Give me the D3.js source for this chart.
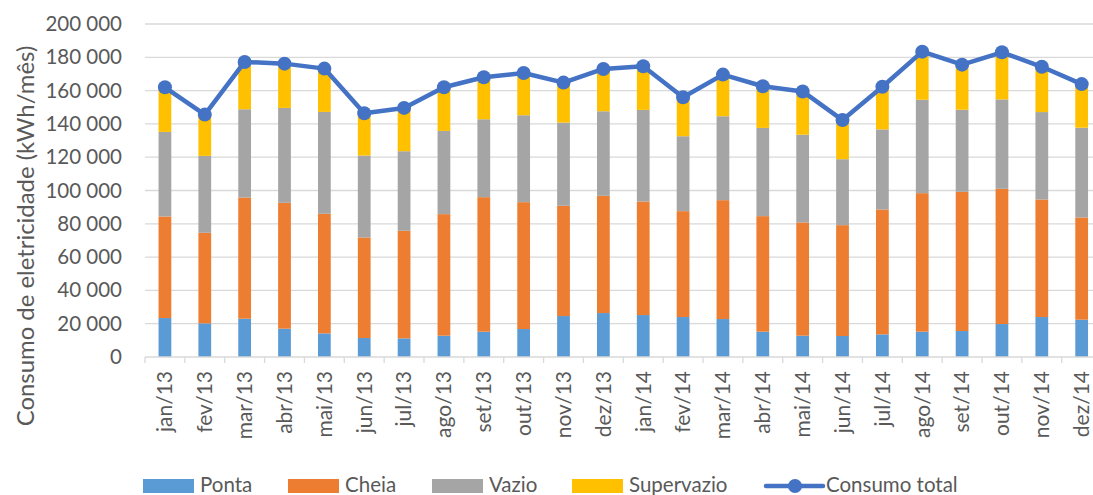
<!DOCTYPE html>
<html>
<head>
<meta charset="utf-8">
<script src="https://cdn.jsdelivr.net/npm/d3@7"></script>
<style>
  body { margin: 0; background: #fff; }
  svg { display: block; font-family: Lato, "Open Sans", sans-serif; }
</style>
</head>
<body>
<div class="chart"></div>
<script>
// monthly consumption (kWh/mês)
const months = ["jan/13", "fev/13", "mar/13", "abr/13", "mai/13", "jun/13",
  "jul/13", "ago/13", "set/13", "out/13", "nov/13", "dez/13",
  "jan/14", "fev/14", "mar/14", "abr/14", "mai/14", "jun/14",
  "jul/14", "ago/14", "set/14", "out/14", "nov/14", "dez/14"];

const ponta = [23400, 20200, 23000, 17000, 14200, 11400, 11200, 12800, 15200, 16800, 24600, 26400,
  25200, 24000, 22800, 15200, 12800, 12600, 13600, 15200, 15600, 19800, 24000, 22400];
const cheia = [61000, 54400, 72800, 75600, 71800, 60400, 64600, 73000, 80800, 76200, 66200, 70400,
  68200, 63600, 71400, 69400, 68000, 66600, 75000, 83200, 83600, 81200, 70600, 61400];
const vazio = [50800, 46200, 53000, 57000, 61200, 49200, 47800, 50000, 46800, 52200, 50000, 50800,
  55000, 45000, 50400, 53000, 52700, 39600, 48100, 56100, 49300, 53700, 52500, 53900];
const supervazio = [26800, 24800, 28400, 26600, 26000, 25400, 26000, 26200, 25200, 25400, 24000, 25400,
  26200, 23400, 25000, 25000, 26000, 23500, 25600, 28900, 27100, 28300, 27200, 26200];

const seriesNames = ["Ponta", "Cheia", "Vazio", "Supervazio"];
const lineName = "Consumo total";
const yTicks = [0, 20000, 40000, 60000, 80000, 100000, 120000, 140000, 160000, 180000, 200000];

const colors = ["#5B9BD5", "#ED7D31", "#A5A5A5", "#FFC000"];
const lineColor = "#4472C4";

const width = 1093, height = 495;
const plotLeft = 145, plotRight = 1101.6, plotTop = 24, plotBottom = 357;

var rows = months.map(function (m, i) {
  return { month: m, Ponta: ponta[i], Cheia: cheia[i], Vazio: vazio[i], Supervazio: supervazio[i] };
});
var totals = rows.map(function (d) {
  return d.Ponta + d.Cheia + d.Vazio + d.Supervazio;
});

var svg = d3.select(".chart").append("svg")
  .attr("width", width)
  .attr("height", height);

var x = d3.scaleBand().domain(months).range([plotLeft, plotRight])
  .paddingInner(0.68).paddingOuter(0.34);
var y = d3.scaleLinear().domain([0, 200000]).range([plotBottom, plotTop]);

const fmt = function (v) {
  return d3.format(",")(v).replace(/,/g, " ");
};

// gridlines
svg.append("g")
  .selectAll("line")
  .data(yTicks.slice(1))
  .join("line")
  .attr("x1", plotLeft).attr("x2", plotRight)
  .attr("y1", function (d) { return y(d); })
  .attr("y2", function (d) { return y(d); })
  .attr("stroke", "#D9D9D9")
  .attr("stroke-width", 1.3);

// y axis labels
var yAxis = svg.append("g")
  .attr("transform", "translate(" + plotLeft + ",0)")
  .call(d3.axisLeft(y).tickValues(yTicks).tickFormat(fmt).tickSize(0).tickPadding(23));
yAxis.select(".domain").remove();
yAxis.selectAll("text")
  .attr("fill", "#595959")
  .style("font-size", "20.5px")
  .style("font-family", "Lato, sans-serif");

// y axis title
svg.append("text")
  .attr("transform", "translate(34," + 236 + ") rotate(-90)")
  .attr("text-anchor", "middle")
  .attr("fill", "#595959")
  .style("font-size", "23.9px")
  .text("Consumo de eletricidade (kWh/mês)");

// stacked bars
var stack = d3.stack().keys(seriesNames)(rows);
svg.append("g")
  .selectAll("g")
  .data(stack)
  .join("g")
  .attr("fill", function (d, i) { return colors[i]; })
  .selectAll("rect")
  .data(function (d) { return d; })
  .join("rect")
  .attr("x", function (d) { return x(d.data.month); })
  .attr("width", x.bandwidth())
  .attr("y", function (d) { return y(d[1]); })
  .attr("height", function (d) { return y(d[0]) - y(d[1]); });

// x axis
var xAxis = svg.append("g")
  .attr("transform", "translate(0," + plotBottom + ")")
  .call(d3.axisBottom(x).tickSize(0).tickPadding(10));
xAxis.select(".domain")
  .attr("stroke", "#D9D9D9")
  .attr("stroke-width", 1.3)
  .attr("d", "M" + plotLeft + ",0H" + plotRight);
xAxis.selectAll("text")
  .attr("transform", "rotate(-90)")
  .attr("text-anchor", "end")
  .attr("dy", "0.35em")
  .attr("x", -14)
  .attr("y", 0)
  .attr("fill", "#595959")
  .style("font-size", "21px")
  .style("font-family", "Lato, sans-serif");

// tick marks between categories
var edges = months.map(function (m) { return x(m) - x.step() * x.paddingOuter(); });
edges.push(plotRight);
svg.append("g")
  .selectAll("line")
  .data(edges)
  .join("line")
  .attr("x1", function (d) { return d; })
  .attr("x2", function (d) { return d; })
  .attr("y1", plotBottom).attr("y2", plotBottom + 6)
  .attr("stroke", "#D9D9D9")
  .attr("stroke-width", 1.3);

// total line
var line = d3.line()
  .x(function (d, i) { return x(months[i]) + x.bandwidth() / 2; })
  .y(function (d) { return y(d); });

svg.append("path")
  .datum(totals)
  .attr("d", line)
  .attr("fill", "none")
  .attr("stroke", lineColor)
  .attr("stroke-width", 4.5)
  .attr("stroke-linejoin", "round");

svg.append("g")
  .selectAll("circle")
  .data(totals)
  .join("circle")
  .attr("cx", function (d, i) { return x(months[i]) + x.bandwidth() / 2; })
  .attr("cy", function (d) { return y(d); })
  .attr("r", 7)
  .attr("fill", lineColor);

// legend
var legendX = [143, 288, 432, 572];
var legend = svg.append("g");
seriesNames.forEach(function (name, i) {
  legend.append("rect")
    .attr("x", legendX[i]).attr("y", 479)
    .attr("width", 51).attr("height", 14)
    .attr("fill", colors[i]);
  legend.append("text")
    .attr("x", legendX[i] + 57).attr("y", 491.5)
    .attr("fill", "#595959")
    .style("font-size", "20.5px")
    .text(name);
});
legend.append("line")
  .attr("x1", 766).attr("x2", 823)
  .attr("y1", 486).attr("y2", 486)
  .attr("stroke", lineColor)
  .attr("stroke-width", 4.5)
  .attr("stroke-linecap", "round");
legend.append("circle")
  .attr("cx", 795).attr("cy", 486).attr("r", 7)
  .attr("fill", lineColor);
legend.append("text")
  .attr("x", 826).attr("y", 491.5)
  .attr("fill", "#595959")
  .style("font-size", "20.5px")
  .text(lineName);
</script>
</body>
</html>
